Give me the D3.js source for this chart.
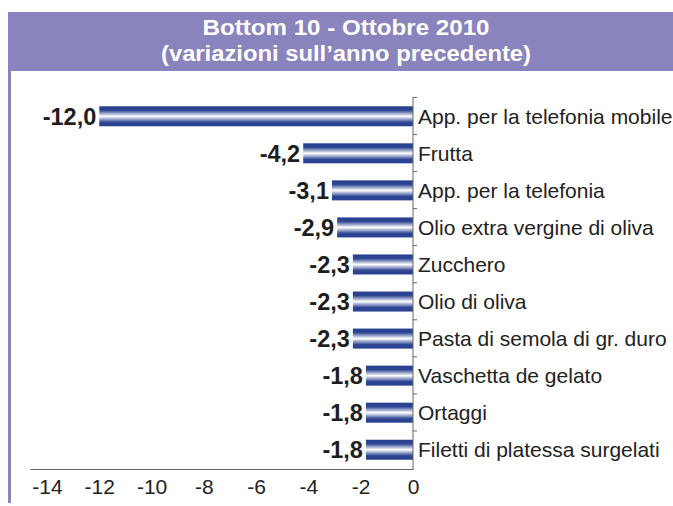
<!DOCTYPE html>
<html>
<head>
<meta charset="utf-8">
<script src="https://cdn.jsdelivr.net/npm/d3@7.9.0/dist/d3.min.js"></script>
<style>
  body { margin: 0; background: #fff; }
  svg { display: block; font-family: Arial, "Liberation Sans", sans-serif; }
</style>
</head>
<body>
<svg width="673" height="506"></svg>
<script>
// data
const categories = [
  'App. per la telefonia mobile',
  'Frutta',
  'App. per la telefonia',
  'Olio extra vergine di oliva',
  'Zucchero',
  'Olio di oliva',
  'Pasta di semola di gr. duro',
  'Vaschetta de gelato',
  'Ortaggi',
  'Filetti di platessa surgelati'
];
const values = [-12.0, -4.2, -3.1, -2.9, -2.3, -2.3, -2.3, -1.8, -1.8, -1.8];
const tickValues = [-14, -12, -10, -8, -6, -4, -2, 0];
const titleLines = ['Bottom 10 - Ottobre 2010', '(variazioni sull\u2019anno precedente)'];

const svg = d3.select('svg');
const purple = '#8983be';

// frame + header
svg.append('rect').attr('x', 8).attr('y', 12).attr('width', 665).attr('height', 59).attr('fill', purple);
svg.append('rect').attr('x', 8).attr('y', 71).attr('width', 3).attr('height', 432).attr('fill', purple);

svg.selectAll('.title')
  .data(titleLines)
  .join('text')
  .attr('x', 346)
  .attr('y', (d, i) => 35 + i * 25.5)
  .attr('text-anchor', 'middle')
  .attr('fill', '#fff')
  .attr('font-weight', 'bold')
  .attr('font-size', 22)
  .attr('textLength', (d, i) => i === 0 ? 287 : 370)
  .attr('lengthAdjust', 'spacingAndGlyphs')
  .text(d => d);

// gradient for bars
const grad = svg.append('defs').append('linearGradient')
  .attr('id', 'barGrad').attr('x1', 0).attr('x2', 0).attr('y1', 0).attr('y2', 1);
grad.append('stop').attr('offset', '0%').attr('stop-color', '#27408f');
grad.append('stop').attr('offset', '20%').attr('stop-color', '#2d4593');
grad.append('stop').attr('offset', '50%').attr('stop-color', '#ffffff');
grad.append('stop').attr('offset', '80%').attr('stop-color', '#2d4593');
grad.append('stop').attr('offset', '100%').attr('stop-color', '#27408f');

const x = d3.scaleLinear().domain([-14.65, 0]).range([30, 413]);
const y = d3.scaleBand().domain(categories).range([97, 469]).paddingInner(0.46).paddingOuter(0.25);

// bars
svg.selectAll('.bar')
  .data(values)
  .join('rect')
  .attr('x', d => x(d))
  .attr('y', (d, i) => y(categories[i]))
  .attr('width', d => x(0) - x(d))
  .attr('height', y.bandwidth())
  .attr('fill', 'url(#barGrad)');

// value labels
svg.selectAll('.val')
  .data(values)
  .join('text')
  .attr('x', d => x(d) - 3)
  .attr('y', (d, i) => y(categories[i]) + y.bandwidth() / 2)
  .attr('dy', '0.36em')
  .attr('text-anchor', 'end')
  .attr('font-weight', 'bold')
  .attr('font-size', 23.5)
  .attr('fill', '#1e1e1e')
  .text(d => d3.format('.1f')(d).replace('.', ',').replace('\u2212', '-'));

// category labels
svg.selectAll('.cat')
  .data(categories)
  .join('text')
  .attr('x', 418)
  .attr('y', d => y(d) + y.bandwidth() / 2)
  .attr('dy', '0.36em')
  .attr('font-size', 21)
  .attr('fill', '#222')
  .text(d => d);

// vertical axis at zero with small ticks to the right
const step = y.step();
const yAxisG = svg.append('g');
yAxisG.append('line')
  .attr('x1', x(0)).attr('x2', x(0)).attr('y1', 97).attr('y2', 469)
  .attr('stroke', '#666').attr('stroke-width', 1);
yAxisG.selectAll('.yt')
  .data(d3.range(categories.length))
  .join('line')
  .attr('x1', x(0)).attr('x2', x(0) + 4)
  .attr('y1', i => 97 + i * step + 0.5).attr('y2', i => 97 + i * step + 0.5)
  .attr('stroke', '#666');

// x axis
const xAxis = d3.axisBottom(x).tickValues(tickValues).tickSize(0).tickPadding(10)
  .tickFormat(d => String(d));
const gx = svg.append('g').attr('transform', 'translate(0,469)').call(xAxis);
gx.select('.domain').attr('stroke', '#666');
gx.selectAll('text').attr('font-size', 21).attr('fill', '#222').attr('font-family', 'Arial, "Liberation Sans", sans-serif');
</script>
</body>
</html>
